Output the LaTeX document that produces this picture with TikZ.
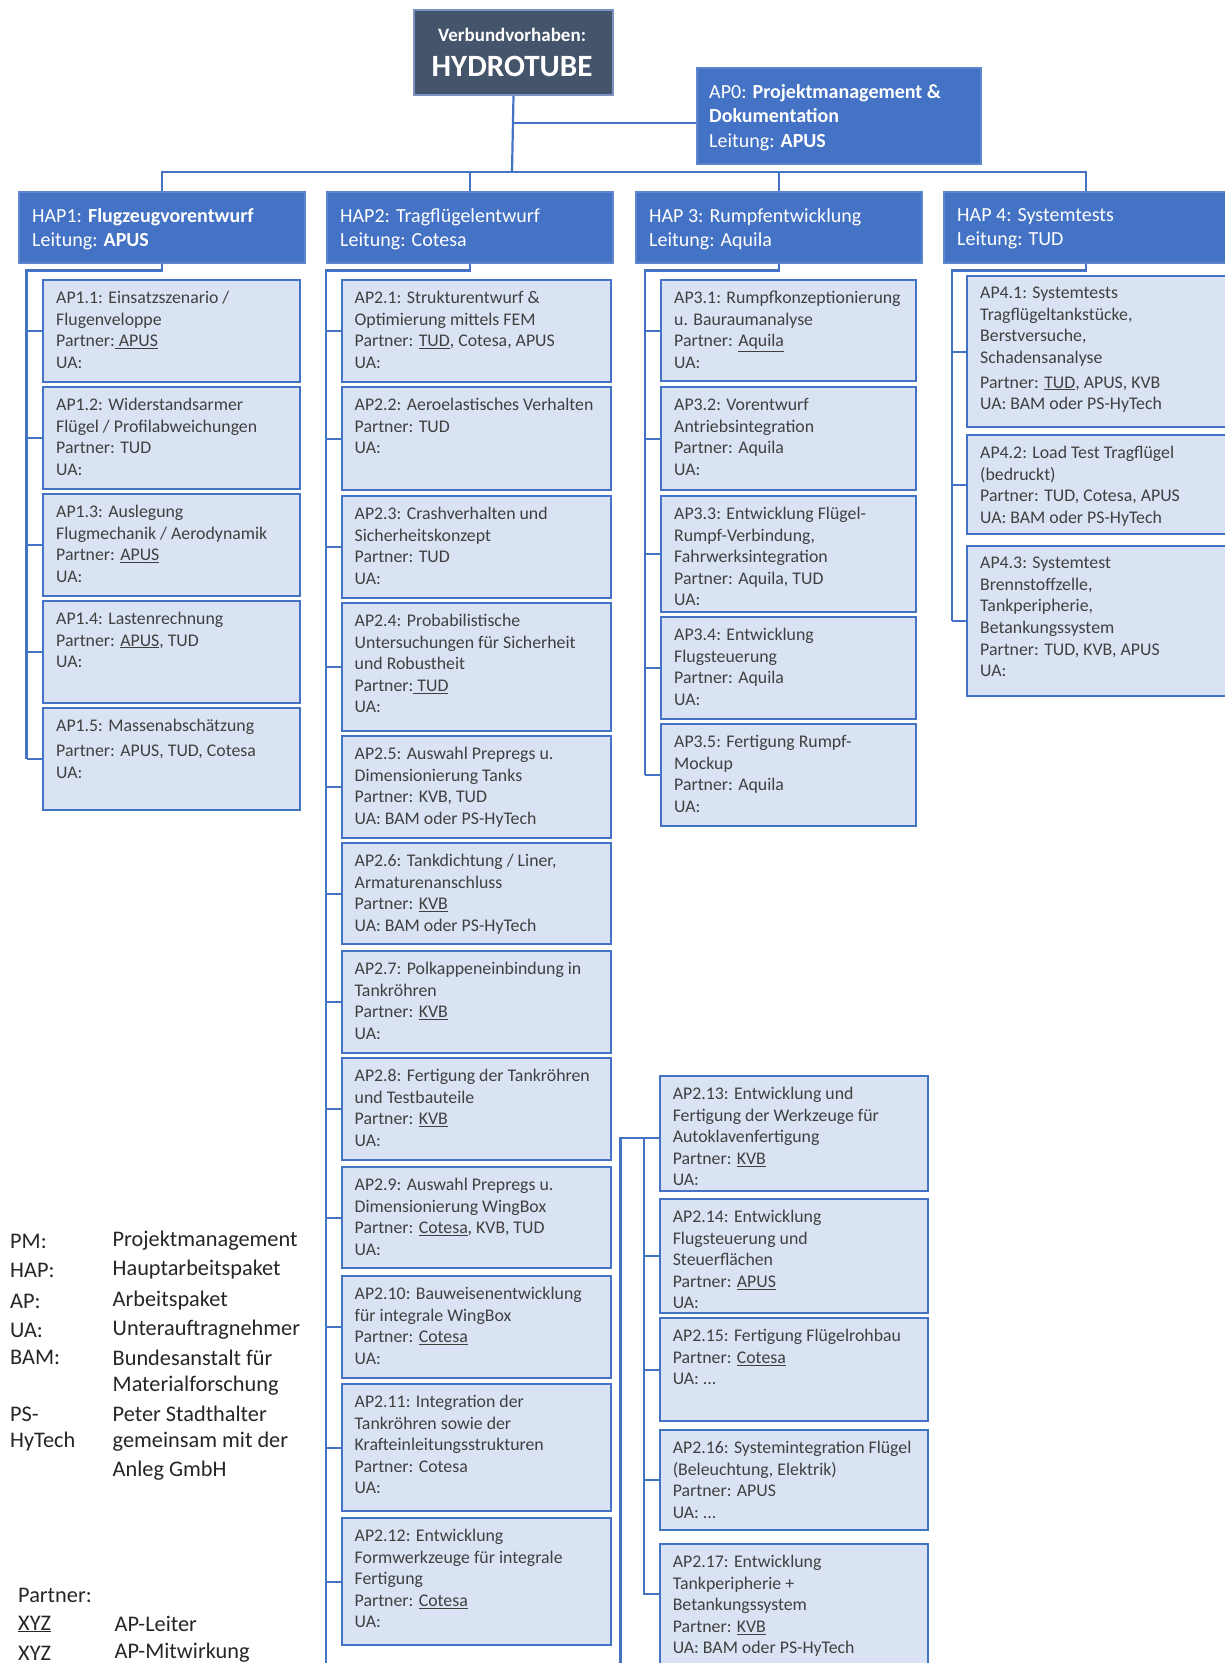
\documentclass[tikz,border=0pt]{standalone}
\usepackage{fontspec}
\setmainfont{Carlito}
\definecolor{hblue}{HTML}{4472C4}
\definecolor{lblue}{HTML}{DAE3F3}
\definecolor{dslate}{HTML}{44546A}
\definecolor{tgray}{HTML}{404040}
\definecolor{hborder}{HTML}{5E86CF}
\definecolor{rborder}{HTML}{7A93C0}
\newcommand\APbox[6]{%
  \node[apbox, anchor=north west, minimum width=#4pt, minimum height=#5pt] (#1) at (#2,#3) {};
  \node[aptext, anchor=north west] (#1t) at ([xshift=14pt,yshift=-12pt]#1.north west) {#6};}
\newcommand\HAPbox[5]{%
  \node[hapbox, anchor=north west, minimum width=#4pt, minimum height=71pt] (#1) at (#2,#3) {};
  \node[haptext, anchor=north west] (#1t) at ([xshift=14pt,yshift=-17pt]#1.north west) {#5};}
\begin{document}
\begin{tikzpicture}[x=1pt,y=-1pt,
  conn/.style={draw=hblue, line width=2.2pt},
  apbox/.style={draw=hblue, fill=lblue, line width=2.4pt, inner sep=0pt, rectangle},
  aptext/.style={text=tgray, align=left, inner sep=0pt, font=\fontsize{17.8}{21.6}\selectfont},
  hapbox/.style={draw=hborder, fill=hblue, line width=2pt, inner sep=0pt, rectangle},
  haptext/.style={text=white, align=left, inner sep=0pt, font=\fontsize{20}{24.5}\selectfont},
  legend/.style={text=black!85, inner sep=0pt, anchor=west, font=\fontsize{22.3}{26}\selectfont}
]
\useasboundingbox (0,0) rectangle (1225,1663);
\clip (0,0) rectangle (1225,1663);
\fill[white] (0,0) rectangle (1225,1663);

% ---------- top ----------
\node[draw=rborder, fill=dslate, line width=2pt, anchor=north west, minimum width=199pt, minimum height=85pt, inner sep=0pt] (root) at (413,9) {};
\node[text=white, font=\bfseries\fontsize{19}{22}\selectfont, inner sep=0pt] (rt1) at (512,35) {Verbundvorhaben:};
\node[text=white, font=\bfseries\fontsize{31}{34}\selectfont, inner sep=0pt] (rt2) at (512,66) {HYDROTUBE};

\node[hapbox, anchor=north west, minimum width=284pt, minimum height=96pt] (ap0) at (696,67) {};
\node[haptext, anchor=north west] (ap0t) at ([xshift=13pt,yshift=-17pt]ap0.north west) {AP0: \textbf{Projektmanagement \&}\\\textbf{Dokumentation}\\Leitung: \textbf{APUS}};

\coordinate (bus) at (512,172);
\draw[conn] (root.south) -- (bus);
\draw[conn] (root.south |- 0,123) -- (ap0.west |- 0,123);

\HAPbox{hap1}{18}{191}{286}{HAP1: \textbf{Flugzeugvorentwurf}\\Leitung: \textbf{APUS}}
\HAPbox{hap2}{326}{191}{286}{HAP2: Tragflügelentwurf\\Leitung: Cotesa}
\HAPbox{hap3}{635}{191}{286}{HAP 3: Rumpfentwicklung\\Leitung: Aquila}
\HAPbox{hap4}{943}{191}{300}{HAP 4: Systemtests\\Leitung: TUD}

\coordinate (h4top) at (1086,191);
\draw[conn] (hap1.north) -- (hap1.north |- bus) -- (h4top |- bus) -- (h4top);
\draw[conn] (hap2.north) -- (hap2.north |- bus);
\draw[conn] (hap3.north) -- (hap3.north |- bus);

% ---------- column 1 ----------
\APbox{ap11}{42}{279}{257}{102}{AP1.1: Einsatzszenario /\\Flugenveloppe\\Partner:\underline{\ APUS}\\UA:}
\APbox{ap12}{42}{386}{257}{102}{AP1.2: Widerstandsarmer\\Flügel / Profilabweichungen\\Partner: TUD\\UA:}
\APbox{ap13}{42}{493}{257}{102}{AP1.3: Auslegung\\Flugmechanik / Aerodynamik\\Partner: \underline{APUS}\\UA:}
\APbox{ap14}{42}{600}{257}{102}{AP1.4: Lastenrechnung\\Partner: \underline{APUS}, TUD\\UA:}
\APbox{ap15}{42}{707}{257}{102}{AP1.5: Massenabschätzung\\[3pt]Partner: APUS, TUD, Cotesa\\[1pt]UA:}

% ---------- column 2 ----------
\APbox{ap21}{340.5}{279}{269}{102}{AP2.1: Strukturentwurf \&\\Optimierung mittels FEM\\Partner: \underline{TUD}, Cotesa, APUS\\UA:}
\APbox{ap22}{340.5}{386}{269}{103}{AP2.2: Aeroelastisches Verhalten\\Partner: TUD\\UA:}
\APbox{ap23}{340.5}{495}{269}{102}{AP2.3: Crashverhalten und\\Sicherheitskonzept\\Partner: TUD\\UA:}
\APbox{ap24}{340.5}{602}{269}{128}{AP2.4: Probabilistische\\Untersuchungen für Sicherheit\\und Robustheit\\Partner:\underline{\ TUD}\\UA:}
\APbox{ap25}{340.5}{735}{269}{102}{AP2.5: Auswahl Prepregs u.\\Dimensionierung Tanks\\Partner: KVB, TUD\\UA: BAM oder PS-HyTech}
\APbox{ap26}{340.5}{842}{269}{101}{AP2.6: Tankdichtung / Liner,\\Armaturenanschluss\\Partner: \underline{KVB}\\UA: BAM oder PS-HyTech}
\APbox{ap27}{340.5}{950}{269}{102}{AP2.7: Polkappeneinbindung in\\Tankröhren\\Partner: \underline{KVB}\\UA:}
\APbox{ap28}{340.5}{1057}{269}{102}{AP2.8: Fertigung der Tankröhren\\und Testbauteile\\Partner: \underline{KVB}\\UA:}
\APbox{ap29}{340.5}{1166}{269}{101}{AP2.9: Auswahl Prepregs u.\\Dimensionierung WingBox\\Partner: \underline{Cotesa}, KVB, TUD\\UA:}
\APbox{ap210}{340.5}{1275}{269}{102}{AP2.10: Bauweisenentwicklung\\für integrale WingBox\\Partner: \underline{Cotesa}\\UA:}
\APbox{ap211}{340.5}{1383}{269}{127}{AP2.11: Integration der\\Tankröhren sowie der\\Krafteinleitungsstrukturen\\Partner: Cotesa\\UA:}
\APbox{ap212}{340.5}{1517}{269}{127}{AP2.12: Entwicklung\\Formwerkzeuge für integrale\\Fertigung\\Partner: \underline{Cotesa}\\UA:}

% ---------- column 2b ----------
\APbox{ap213}{658.6}{1075}{268}{115}{AP2.13: Entwicklung und\\Fertigung der Werkzeuge für\\Autoklavenfertigung\\Partner: \underline{KVB}\\UA:}
\APbox{ap214}{658.6}{1198}{268}{114}{AP2.14: Entwicklung\\Flugsteuerung und\\Steuerflächen\\Partner: \underline{APUS}\\UA:}
\APbox{ap215}{658.6}{1317}{268}{103}{AP2.15: Fertigung Flügelrohbau\\Partner: \underline{Cotesa}\\UA: ...}
\APbox{ap216}{658.6}{1429}{268}{100}{AP2.16: Systemintegration Flügel\\(Beleuchtung, Elektrik)\\Partner: APUS\\UA: ...}
\APbox{ap217}{658.6}{1543}{268}{134}{AP2.17: Entwicklung\\Tankperipherie +\\Betankungssystem\\Partner: \underline{KVB}\\UA: BAM oder PS-HyTech}

% ---------- column 3 ----------
\APbox{ap31}{660}{279}{255}{101}{AP3.1: Rumpfkonzeptionierung\\u. Bauraumanalyse\\Partner: \underline{Aquila}\\UA:}
\APbox{ap32}{660}{386}{255}{103}{AP3.2: Vorentwurf\\Antriebsintegration\\Partner: Aquila\\UA:}
\APbox{ap33}{660}{495}{255}{116}{AP3.3: Entwicklung Flügel-\\Rumpf-Verbindung,\\Fahrwerksintegration\\Partner: Aquila, TUD\\UA:}
\APbox{ap34}{660}{616}{255}{102}{AP3.4: Entwicklung\\Flugsteuerung\\Partner: Aquila\\UA:}
\APbox{ap35}{660}{723}{255}{102}{AP3.5: Fertigung Rumpf-\\Mockup\\Partner: Aquila\\UA:}

% ---------- column 4 ----------
\APbox{ap41}{966}{275}{290}{151}{AP4.1: Systemtests\\Tragflügeltankstücke,\\Berstversuche,\\Schadensanalyse\\[3pt]Partner: \underline{TUD}, APUS, KVB\\UA: BAM oder PS-HyTech}
\APbox{ap42}{966}{434}{290}{99}{AP4.2: Load Test Tragflügel\\(bedruckt)\\Partner: TUD, Cotesa, APUS\\UA: BAM oder PS-HyTech}
\APbox{ap43}{966}{545}{290}{150}{AP4.3: Systemtest\\Brennstoffzelle,\\Tankperipherie,\\Betankungssystem\\Partner: TUD, KVB, APUS\\UA:}

% ---------- connectors below HAPs ----------
\coordinate (c1) at (26.5,270.5);
\coordinate (c2) at (325.6,270.5);
\coordinate (c3) at (645,270.5);
\coordinate (c4) at (952,270.5);
\coordinate (c2end) at (325.6,1663);
\coordinate (o2) at (620.5,1663);
\coordinate (i2) at (644,1138);

\draw[conn] (hap1.south) -- (hap1.south |- c1) -- (c1) -- (c1 |- ap15.west);
\draw[conn] (hap2.south) -- (hap2.south |- c2) -- (c2) -- (c2end);
\draw[conn] (hap3.south) -- (hap3.south |- c3) -- (c3) -- (c3 |- ap35.west);
\draw[conn] (hap4.south -| h4top) -- (h4top |- c4) -- (c4) -- (c4 |- ap43.west);
\foreach \n in {ap11,ap12,ap13,ap14,ap15} \draw[conn] (c1 |- \n.west) -- (\n.west);
\foreach \n in {ap21,ap22,ap23,ap24,ap25,ap26,ap27,ap28,ap29,ap210,ap211,ap212} \draw[conn] (c2 |- \n.west) -- (\n.west);
\foreach \n in {ap31,ap32,ap33,ap34,ap35} \draw[conn] (c3 |- \n.west) -- (\n.west);
\foreach \n in {ap41,ap42,ap43} \draw[conn] (c4 |- \n.west) -- (\n.west);
\draw[conn] (o2) -- (o2 |- i2) -- (ap213.west |- i2);
\coordinate (s217) at ([yshift=17pt]ap217.west);
\draw[conn] (i2) -- (i2 |- s217) -- (s217);
\foreach \n in {ap214,ap215,ap216} \draw[conn] (i2 |- \n.west) -- (\n.west);

% ---------- legend ----------
\node[legend] (lg1) at (10,1241) {PM:};
\node[legend] (lv1) at (112.5,1241) {Projektmanagement};
\node[legend] (lg2) at (10,1270) {HAP:};
\node[legend] (lv2) at (112.5,1270) {Hauptarbeitspaket};
\node[legend] (lg3) at (10,1301) {AP:};
\node[legend] (lv3) at (112.5,1301) {Arbeitspaket};
\node[legend] (lg4) at (10,1330) {UA:};
\node[legend] (lv4) at (112.5,1330) {Unterauftragnehmer};
\node[legend] (lg5) at (10,1357.5) {BAM:};
\node[legend] (lv5) at (112.5,1357.5) {Bundesanstalt für};
\node[legend] (lv5b) at (112.5,1386) {Materialforschung};
\node[legend] (lg6) at (10,1414) {PS-};
\node[legend] (lv6) at (112.5,1414) {Peter Stadthalter};
\node[legend] (lg6b) at (10,1442) {HyTech};
\node[legend] (lv6b) at (112.5,1442) {gemeinsam mit der};
\node[legend] (lv6c) at (112.5,1471) {Anleg GmbH};
\node[legend] (lp) at (18,1595) {Partner:};
\node[legend] (lx1) at (18,1624) {\underline{XYZ}};
\node[legend] (lx1v) at (114.5,1624) {AP-Leiter};
\node[legend] (lx2) at (18,1653) {XYZ};
\node[legend] (lx2v) at (114.5,1653) {AP-Mitwirkung};
\end{tikzpicture}
\end{document}
